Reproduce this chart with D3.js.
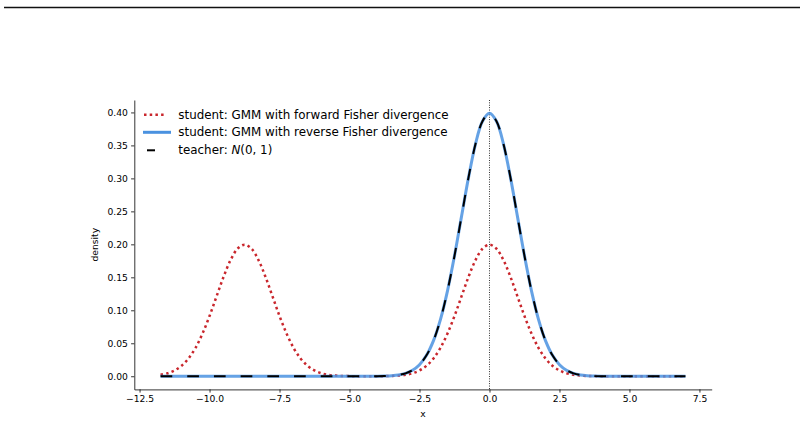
<!DOCTYPE html>
<html>
<head>
<meta charset="utf-8">
<script src="https://cdn.jsdelivr.net/npm/d3@7"></script>
<style>
  body { margin: 0; background: #fff; }
  svg { display: block; font-family: "DejaVu Sans", sans-serif; }
</style>
</head>
<body>
<div id="chart"></div>
<script>
// x grid the curves were read at
const xs = [
  -11.75, -11.5, -11.25, -11.0, -10.75, -10.5, -10.25, -10.0, -9.75, -9.5,
  -9.25, -9.0, -8.75, -8.5, -8.25, -8.0, -7.75, -7.5, -7.25, -7.0,
  -6.75, -6.5, -6.25, -6.0, -5.75, -5.5, -5.25, -5.0, -4.75, -4.5,
  -4.25, -4.0, -3.75, -3.5, -3.25, -3.0, -2.75, -2.5, -2.25, -2.0,
  -1.75, -1.5, -1.25, -1.0, -0.75, -0.5, -0.25, 0.0, 0.25, 0.5,
  0.75, 1.0, 1.25, 1.5, 1.75, 2.0, 2.25, 2.5, 2.75, 3.0,
  3.25, 3.5, 3.75, 4.0, 4.25, 4.5, 4.75, 5.0, 5.25, 5.5,
  5.75, 6.0, 6.25, 6.5, 6.75, 7.0
];

// student: GMM, forward Fisher divergence (two bumps)
const forwardGMM = [
  0.0022, 0.0045, 0.0088, 0.0159, 0.0270, 0.0431, 0.0648, 0.0913, 0.1210, 0.1506,
  0.1760, 0.1933, 0.1995, 0.1933, 0.1760, 0.1506, 0.1210, 0.0913, 0.0648, 0.0431,
  0.0270, 0.0159, 0.0088, 0.0045, 0.0022, 0.0010, 0.0004, 0.0002, 0.0001, 0.0000,
  0.0000, 0.0001, 0.0002, 0.0004, 0.0010, 0.0022, 0.0045, 0.0088, 0.0159, 0.0270,
  0.0431, 0.0648, 0.0913, 0.1210, 0.1506, 0.1760, 0.1933, 0.1995, 0.1933, 0.1760,
  0.1506, 0.1210, 0.0913, 0.0648, 0.0431, 0.0270, 0.0159, 0.0088, 0.0045, 0.0022,
  0.0010, 0.0004, 0.0002, 0.0001, 0.0000, 0.0000, 0.0000, 0.0000, 0.0000, 0.0000,
  0.0000, 0.0000, 0.0000, 0.0000, 0.0000, 0.0000
];

// student: GMM, reverse Fisher divergence
const reverseGMM = [
  0.0000, 0.0000, 0.0000, 0.0000, 0.0000, 0.0000, 0.0000, 0.0000, 0.0000, 0.0000,
  0.0000, 0.0000, 0.0000, 0.0000, 0.0000, 0.0000, 0.0000, 0.0000, 0.0000, 0.0000,
  0.0000, 0.0000, 0.0000, 0.0000, 0.0000, 0.0000, 0.0000, 0.0000, 0.0000, 0.0000,
  0.0000, 0.0001, 0.0004, 0.0009, 0.0020, 0.0044, 0.0091, 0.0175, 0.0317, 0.0540,
  0.0863, 0.1295, 0.1826, 0.2420, 0.3011, 0.3521, 0.3867, 0.3989, 0.3867, 0.3521,
  0.3011, 0.2420, 0.1826, 0.1295, 0.0863, 0.0540, 0.0317, 0.0175, 0.0091, 0.0044,
  0.0020, 0.0009, 0.0004, 0.0001, 0.0000, 0.0000, 0.0000, 0.0000, 0.0000, 0.0000,
  0.0000, 0.0000, 0.0000, 0.0000, 0.0000, 0.0000
];

// teacher: N(0, 1)
const teacher = [
  0.0000, 0.0000, 0.0000, 0.0000, 0.0000, 0.0000, 0.0000, 0.0000, 0.0000, 0.0000,
  0.0000, 0.0000, 0.0000, 0.0000, 0.0000, 0.0000, 0.0000, 0.0000, 0.0000, 0.0000,
  0.0000, 0.0000, 0.0000, 0.0000, 0.0000, 0.0000, 0.0000, 0.0000, 0.0000, 0.0000,
  0.0000, 0.0001, 0.0004, 0.0009, 0.0020, 0.0044, 0.0091, 0.0175, 0.0317, 0.0540,
  0.0863, 0.1295, 0.1826, 0.2420, 0.3011, 0.3521, 0.3867, 0.3989, 0.3867, 0.3521,
  0.3011, 0.2420, 0.1826, 0.1295, 0.0863, 0.0540, 0.0317, 0.0175, 0.0091, 0.0044,
  0.0020, 0.0009, 0.0004, 0.0001, 0.0000, 0.0000, 0.0000, 0.0000, 0.0000, 0.0000,
  0.0000, 0.0000, 0.0000, 0.0000, 0.0000, 0.0000
];

const xTicks = [-12.5, -10.0, -7.5, -5.0, -2.5, 0.0, 2.5, 5.0, 7.5];
const yTicks = [0.00, 0.05, 0.10, 0.15, 0.20, 0.25, 0.30, 0.35, 0.40];
const legendLabels = [
  'student: GMM with forward Fisher divergence',
  'student: GMM with reverse Fisher divergence',
  'teacher: '
];

const svgWidth = 804, svgHeight = 424;
const plot = {left: 134.3, right: 711.7, top: 100, bottom: 389.4};

const red = '#c9262c', blue = '#4a92e0';

const svg = d3.select('#chart')
    .append('svg')
    .attr('width', svgWidth)
    .attr('height', svgHeight);

// rule across the top of the page
svg.append('line')
    .attr('x1', 4).attr('x2', 800)
    .attr('y1', 7.5).attr('y2', 7.5)
    .attr('stroke', '#111')
    .attr('stroke-width', 1.3);

// matplotlib-style 5% padding around the data
const xExt = d3.extent(xs), xPad = (xExt[1] - xExt[0]) * 0.05;
const yMax = d3.max(teacher), yPad = yMax * 0.05;

const xScale = d3.scaleLinear()
    .domain([xExt[0] - xPad, xExt[1] + xPad])
    .range([plot.left, plot.right]);
const yScale = d3.scaleLinear()
    .domain([-yPad, yMax + yPad])
    .range([plot.bottom, plot.top]);

const xAxis = svg.append('g')
    .attr('transform', `translate(0, ${plot.bottom})`)
    .call(d3.axisBottom(xScale).tickValues(xTicks).tickFormat(d3.format('.1f'))
        .tickSize(3.2).tickPadding(3.2).tickSizeOuter(0));

const yAxis = svg.append('g')
    .attr('transform', `translate(${plot.left}, 0)`)
    .call(d3.axisLeft(yScale).tickValues(yTicks).tickFormat(d3.format('.2f'))
        .tickSize(3.2).tickPadding(3.2).tickSizeOuter(0));

[xAxis, yAxis].forEach(a => {
    a.select('.domain').attr('stroke', '#000').attr('stroke-width', 0.8);
    a.selectAll('.tick line').attr('stroke', '#000').attr('stroke-width', 0.8);
    a.selectAll('.tick text')
        .attr('fill', '#000')
        .style('font-family', '"DejaVu Sans", sans-serif')
        .style('font-size', '9.2px');
});

svg.append('text')
    .attr('x', (plot.left + plot.right) / 2)
    .attr('y', 416.5)
    .attr('text-anchor', 'middle')
    .attr('font-size', '9.2px')
    .text('x');

svg.append('text')
    .attr('transform', `translate(97.5, ${(plot.top + plot.bottom) / 2}) rotate(-90)`)
    .attr('text-anchor', 'middle')
    .attr('font-size', '9.2px')
    .text('density');

// vertical dotted marker at x = 0
svg.append('line')
    .attr('x1', xScale(0)).attr('x2', xScale(0))
    .attr('y1', plot.top).attr('y2', plot.bottom)
    .attr('stroke', '#000')
    .attr('stroke-width', 0.9)
    .attr('stroke-dasharray', '0.9,1.5');

const line = ys => d3.line()
    .x((d, i) => xScale(xs[i]))
    .y(d => yScale(d))
    .curve(d3.curveCatmullRom)(ys);

svg.append('path')
    .attr('d', line(forwardGMM))
    .attr('fill', 'none')
    .attr('stroke', red)
    .attr('stroke-width', 2.5)
    .attr('stroke-dasharray', '2.5,3.2');

svg.append('path')
    .attr('d', line(reverseGMM))
    .attr('fill', 'none')
    .attr('stroke', blue)
    .attr('stroke-opacity', 0.85)
    .attr('stroke-width', 3);

svg.append('path')
    .attr('d', line(teacher))
    .attr('fill', 'none')
    .attr('stroke', '#000')
    .attr('stroke-width', 2)
    .attr('stroke-dasharray', '11.7,15');

// legend
const legendRows = [114.8, 132.3, 150.3];
const legend = svg.append('g');

legend.append('line')
    .attr('x1', 144).attr('x2', 166)
    .attr('y1', legendRows[0]).attr('y2', legendRows[0])
    .attr('stroke', red).attr('stroke-width', 2.5)
    .attr('stroke-dasharray', '2.5,3.2');
legend.append('line')
    .attr('x1', 143).attr('x2', 171)
    .attr('y1', legendRows[1]).attr('y2', legendRows[1])
    .attr('stroke', blue).attr('stroke-width', 3);
legend.append('line')
    .attr('x1', 147).attr('x2', 155)
    .attr('y1', legendRows[2]).attr('y2', legendRows[2])
    .attr('stroke', '#000').attr('stroke-width', 2);

legendLabels.forEach((label, i) => {
    const t = legend.append('text')
        .attr('x', 178.3)
        .attr('y', legendRows[i])
        .attr('dy', '0.35em')
        .attr('font-size', '11.9px')
        .attr('fill', '#000')
        .text(label);
    if (i === 2) {
        t.append('tspan').attr('font-style', 'italic').text('N');
        t.append('tspan').text('(0, 1)');
    }
});
</script>
</body>
</html>
